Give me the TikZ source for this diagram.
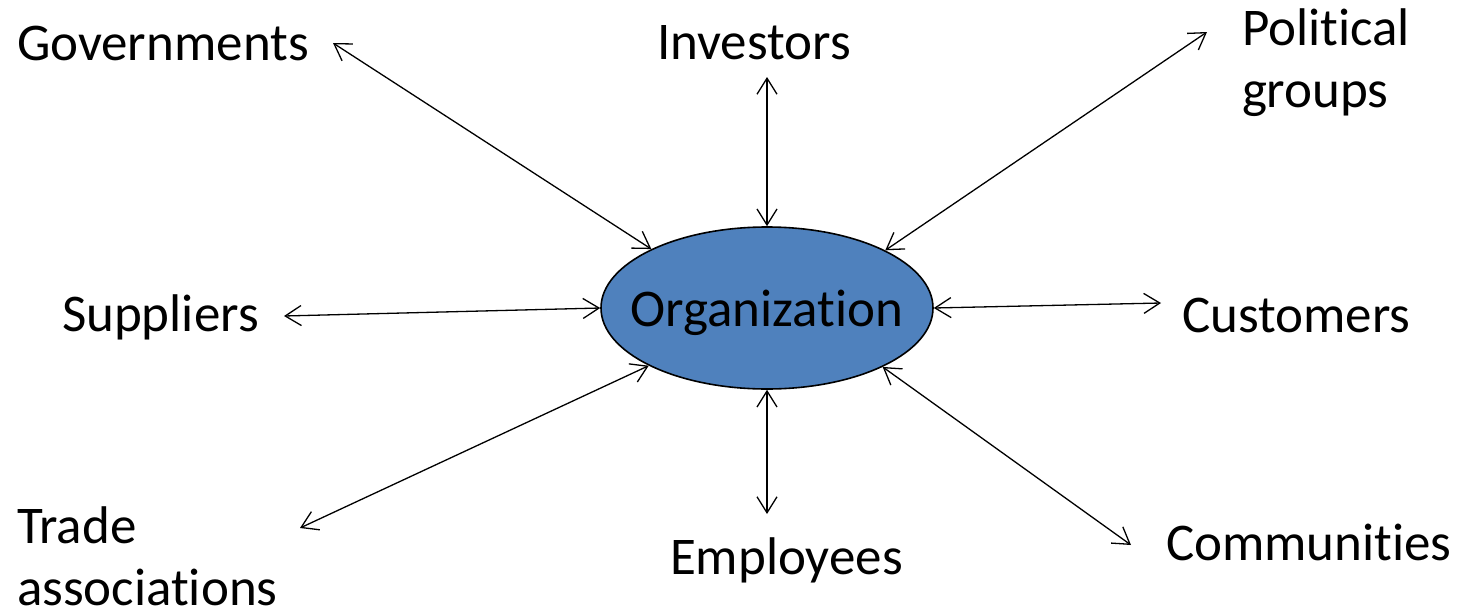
\documentclass[tikz,border=0pt]{standalone}
\usepackage{fontspec}
\setmainfont{Carlito}[Ligatures={NoCommon,NoRare,NoContextual}]
\usetikzlibrary{arrows.meta,shapes.geometric}
\definecolor{orgblue}{RGB}{79,129,189}
\tikzset{
  lbl/.style={inner sep=0pt, outer sep=0pt, anchor=base west, align=left, font=\fontsize{53}{62}\selectfont},
  conn/.style={line width=1.3pt, {Straight Barb[length=16pt,width=20pt]}-{Straight Barb[length=16pt,width=20pt]}},
  orgshape/.style={ellipse, draw=black, line width=1.6pt, fill=orgblue, inner sep=0pt, minimum width=332pt, minimum height=162pt}
}
\begin{document}
\begin{tikzpicture}[x=1pt,y=-1pt]
\useasboundingbox (0,0) rectangle (1457,611);
\node[orgshape] (org) at (767,308) {};
\node[lbl, anchor=base] (orgtxt) at (767,326) {Organizat\kern0pt ion};
\node[lbl] (gov) at (17,60) {Governments};
\node[lbl] (inv) at (657,59) {Investors};
\node[lbl] (pol) at (1242,107) {Political\\groups};
\node[lbl] (sup) at (62,331) {Suppliers};
\node[lbl] (cus) at (1182,332) {Customers};
\node[lbl] (tra) at (17,605) {Trade\\associat\kern0pt ions};
\node[lbl] (emp) at (670,574) {Employees};
\node[lbl] (com) at (1166,560) {Communit\kern0pt ies};
\coordinate (cgov) at (333,43);
\coordinate (cinv) at (767,77);
\coordinate (cpol) at (1207,32);
\coordinate (csup) at (284,316);
\coordinate (ccus) at (1161,303);
\coordinate (ctra) at (300,528);
\coordinate (cemp) at (767,514);
\coordinate (ccom) at (1131,545);
\draw[conn] (cgov) -- (org.153.4);
\draw[conn] (cinv) -- (org.90);
\draw[conn] (cpol) -- (org.26.4);
\draw[conn] (csup) -- (org.180.3);
\draw[conn] (ccus) -- (org.0);
\draw[conn] (ctra) -- (org.206.4);
\draw[conn] (cemp) -- (org.270);
\draw[conn] (ccom) -- (org.333.6);
\end{tikzpicture}
\end{document}
